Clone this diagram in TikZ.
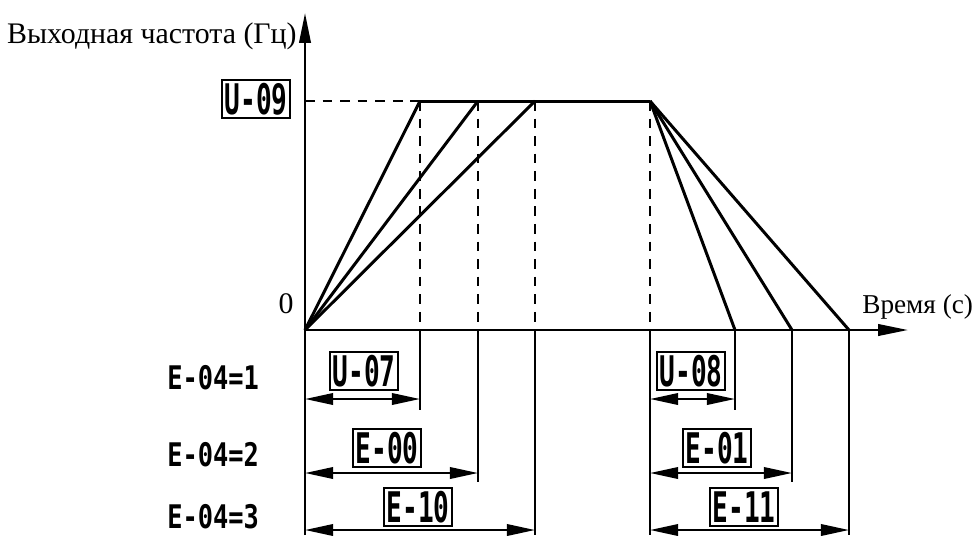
\documentclass[tikz,border=0pt]{standalone}
\usepackage{fontspec}
\setmainfont{Liberation Serif}
\newfontfamily\lcdfont{DejaVu Sans Mono}[FakeStretch=0.62]
\newfontfamily\lcdwide{DejaVu Sans Mono}[FakeStretch=0.78]
\usetikzlibrary{positioning, calc, arrows.meta}

\tikzset{
  axis/.style={line width=1.4pt, -{Triangle[length=17pt,width=6.5pt]}},
  ramp/.style={line width=1.7pt},
  guide/.style={line width=1.3pt, dash pattern=on 5.5pt off 4.5pt},
  ext/.style={line width=1.3pt},
  dim/.style={line width=1.3pt, {Triangle[length=16pt,width=6.5pt]}-{Triangle[length=16pt,width=6.5pt]}},
  lcdbox/.style={draw, line width=1.1pt, minimum width=1.36cm, minimum height=0.76cm, inner sep=0pt,
    font=\lcdfont\bfseries\fontsize{24}{24}\selectfont},
  lcdlabel/.style={anchor=west, inner sep=0pt, font=\lcdwide\bfseries\fontsize{18.5}{18.5}\selectfont},
  axlabel/.style={inner sep=0pt, font=\fontsize{17}{20}\selectfont}
}

\begin{document}
\begin{tikzpicture}[x=0.02cm,y=-0.02cm]
    \useasboundingbox (0,0) rectangle (979,535);

    % --- Axes ---
    \coordinate (O) at (305,330);
    \coordinate (ytop) at (305,13);
    \coordinate (ybot) at (305,535);
    \coordinate (xend) at (908,330);
    \draw[axis] (ybot) -- (ytop);
    \draw[axis] (O) -- (xend);

    % --- Axis labels ---
    \node[axlabel, anchor=base east] (ylab) at (297,43) {Выходная частота (Гц)};
    \node[axlabel, font=\fontsize{17}{20}\selectfont] (zero) at (286,304) {0};
    \node[axlabel, anchor=base west, font=\fontsize{15.5}{18}\selectfont] (xlab) at (862,313) {Время (с)};

    % --- Corners of the speed curve ---
    \coordinate (lvl) at (305,101);
    \coordinate (a1) at (420,101);
    \coordinate (a2) at (478,101);
    \coordinate (a3) at (535,101);
    \coordinate (d0) at (650,101);
    \coordinate (e1) at (735,330);
    \coordinate (e2) at (792,330);
    \coordinate (e3) at (849,330);

    % --- Speed curve (accel / decel ramps) ---
    \draw[guide] (lvl) -- (a1);
    \draw[ramp] (a1) -- (d0);
    \foreach \p in {a1,a2,a3} \draw[ramp] (O) -- (\p);
    \foreach \p in {e1,e2,e3} \draw[ramp] (d0) -- (\p);
    \foreach \p in {a1,a2,a3,d0} \draw[guide] (\p) -- (\p |- O);

    % --- Extension lines below the time axis ---
    \coordinate (b1) at (0,410);
    \coordinate (b2) at (0,482);
    \coordinate (b3) at (0,535);
    \draw[ext] (a1 |- O) -- (a1 |- b1);
    \draw[ext] (a2 |- O) -- (a2 |- b2);
    \draw[ext] (a3 |- O) -- (a3 |- b3);
    \draw[ext] (d0 |- O) -- (d0 |- b3);
    \draw[ext] (e1) -- (e1 |- b1);
    \draw[ext] (e2) -- (e2 |- b2);
    \draw[ext] (e3) -- (e3 |- b3);

    % --- Dimension arrows ---
    \coordinate (r1) at (0,399);
    \coordinate (r2) at (0,473);
    \coordinate (r3) at (0,530);
    \draw[dim] (O |- r1) -- (a1 |- r1);
    \draw[dim] (O |- r2) -- (a2 |- r2);
    \draw[dim] (O |- r3) -- (a3 |- r3);
    \draw[dim] (d0 |- r1) -- (e1 |- r1);
    \draw[dim] (d0 |- r2) -- (e2 |- r2);
    \draw[dim] (d0 |- r3) -- (e3 |- r3);

    % --- Parameter boxes ---
    \node[lcdbox] (U09) at (256,99) {U-09};
    \node[lcdbox] (U07) at (364,371) {U-07};
    \node[lcdbox] (E00) at (387,448) {E-00};
    \node[lcdbox] (E10) at (418,507) {E-10};
    \node[lcdbox] (U08) at (691,371) {U-08};
    \node[lcdbox] (E01) at (717,448) {E-01};
    \node[lcdbox] (E11) at (744,507) {E-11};

    % --- Mode labels ---
    \node[lcdlabel] (m1) at (167,378) {E-04=1};
    \node[lcdlabel] (m2) at (167,455) {E-04=2};
    \node[lcdlabel] (m3) at (167,517) {E-04=3};

\end{tikzpicture}
\end{document}
